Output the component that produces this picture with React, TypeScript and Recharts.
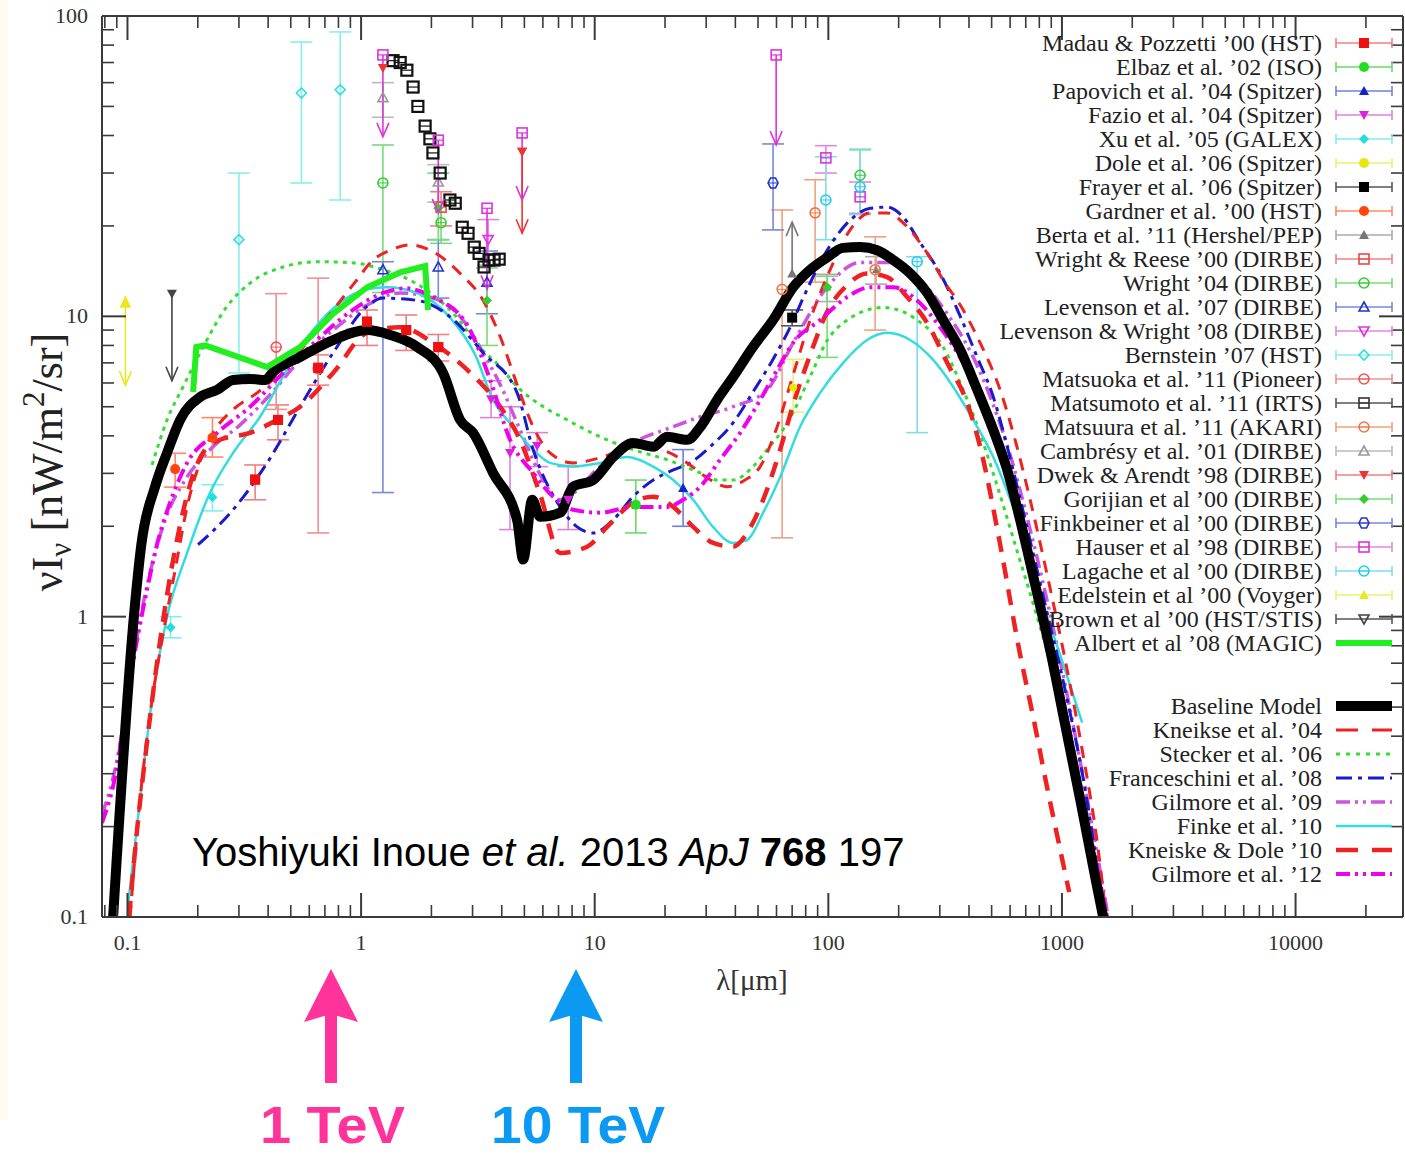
import React from 'react';
import { ComposedChart, Line, Scatter, XAxis, YAxis, ErrorBar } from 'recharts';

// ---------- axes ----------
const X_DOMAIN: [number, number] = [0.0778, 28830];
const Y_DOMAIN: [number, number] = [0.1, 100];
const X_TICKS = [0.08, 0.09, 0.1, 0.2, 0.3, 0.4, 0.5, 0.6, 0.7, 0.8, 0.9, 1, 2, 3, 4, 5, 6, 7, 8, 9, 10, 20, 30, 40, 50, 60, 70, 80, 90, 100, 200, 300, 400, 500, 600, 700, 800, 900, 1000, 2000, 3000, 4000, 5000, 6000, 7000, 8000, 9000, 10000, 20000];
const X_MAJOR = [0.1, 1, 10, 100, 1000, 10000];
const X_LABELS = ['0.1', '1', '10', '100', '1000', '10000'];
const Y_TICKS = [0.1, 0.2, 0.3, 0.4, 0.5, 0.6, 0.7, 0.8, 0.9, 1, 2, 3, 4, 5, 6, 7, 8, 9, 10, 20, 30, 40, 50, 60, 70, 80, 90, 100];
const Y_MAJOR = [0.1, 1, 10, 100];
const Y_LABELS = ['0.1', '1', '10', '100'];

// ---------- model curves [lambda (um), nuI_nu] ----------
const baseline = [[0.0868,0.1],[0.1067,1.015],[0.1146,1.735],[0.1313,2.71],[0.1477,3.51],[0.168,4.52],[0.2046,5.39],[0.2418,5.69],[0.2831,6.14],[0.3347,6.19],[0.388,6.14],[0.42,6.53],[0.548,7.32],[0.759,8.34],[1.061,9.0],[1.331,8.67],[1.737,7.91],[2.244,6.48],[2.653,4.52],[3.017,4.09],[3.673,3.01],[4.654,2.1],[4.94,1.55],[5.4,2.45],[5.84,2.15],[7.11,2.22],[8.08,2.71],[9.84,2.85],[11.99,3.4],[14.6,3.79],[17.8,3.68],[20.4,3.97],[24.9,3.88],[28.3,4.28],[33.4,5.27],[39.1,6.28],[47.6,7.91],[58,9.72],[70.7,12.5],[83.6,14.3],[98.8,15.7],[115.7,16.9],[136.8,17.0],[161.8,16.6],[189.4,15.4],[224,13.9],[265,11.96],[310,9.72],[367,7.73],[434,5.69],[508,4.19],[583,3.08],[662,2.1],[768,1.278],[899,0.747],[1032,0.437],[1197,0.246],[1387,0.136],[1501,0.1]];
const kneikse04 = [[0.1026,0.1],[0.1132,0.246],[0.1249,0.472],[0.1406,0.838],[0.16,1.43],[0.18,2.32],[0.2046,3.28],[0.2325,4.09],[0.2831,4.89],[0.3588,5.56],[0.45,6.48],[0.576,8.04],[0.759,10.5],[0.943,13.0],[1.126,15.4],[1.331,16.6],[1.621,17.3],[2.033,16.4],[2.653,13.9],[3.33,11.3],[3.94,8.55],[4.654,5.92],[5.45,4.29],[6.44,3.51],[8.08,3.25],[10.55,3.38],[14.6,3.68],[19.05,3.6],[24.9,3.25],[30.3,2.9],[36.9,2.71],[44,2.85],[51.1,3.16],[60.4,4.29],[70.7,6.39],[83.6,9.72],[101.8,14.3],[124,19.4],[151,22.1],[178.5,22.1],[213,20.2],[260,16.6],[316,12.9],[367,10.9],[446.5,8.16],[543.8,5.69],[630,3.88],[731,2.45],[873,1.33],[1032,0.719],[1220,0.361],[1429,0.168],[1546,0.1]];
const stecker06 = [[0.1274,3.2],[0.1477,4.52],[0.173,5.83],[0.2046,7.56],[0.267,10.8],[0.3347,12.9],[0.464,14.6],[0.648,15.2],[0.897,15.1],[1.242,14.3],[1.737,12.8],[2.404,10.5],[3.33,7.7],[3.94,6.79],[4.654,5.83],[5.45,5.27],[7.62,4.52],[10.55,3.97],[14.6,3.6],[20.4,3.33],[28.3,3.01],[33.4,2.85],[39.1,2.85],[47.6,3.16],[54.7,3.6],[66.6,4.4],[83.6,6.3],[98.8,8.3],[115.7,9.5],[171.6,10.7],[240,9.72],[310,7.91],[367,6.0],[425,4.52],[518,2.86],[630,1.74],[768,1.05],[935,0.62],[1139,0.334]];
const franceschini08 = [[0.2005,1.736],[0.2831,2.27],[0.396,3.25],[0.548,5.0],[0.759,7.56],[1.061,10.8],[1.242,11.5],[1.737,11.3],[2.404,9.96],[3.33,7.56],[4.654,5.56],[5.45,3.6],[7.11,2.32],[8.41,1.99],[9.84,1.9],[11.99,2.1],[14.6,2.51],[17.8,2.85],[21.7,3.08],[25.6,3.25],[31.2,3.68],[39.1,4.42],[47.6,5.6],[58,7.2],[70,9.5],[78,11.5],[98.8,16.6],[124,20.9],[151,22.9],[178.5,23.1],[209,21.4],[247,17.6],[301,13.9],[367,10.0],[434,7.3],[508,5.4],[583,3.68],[696,2.1],[847,1.1],[1032,0.57],[1257,0.266],[1520,0.1]];
const gilmore09 = [[0.0778,0.219],[0.0903,0.334],[0.1006,0.55],[0.1132,0.977],[0.1274,1.49],[0.1449,2.1],[0.1764,2.85],[0.2258,3.6],[0.3034,4.35],[0.408,5.48],[0.548,7.16],[0.759,9.0],[1.061,10.9],[1.469,11.96],[2.033,11.5],[2.73,9.72],[3.33,7.56],[3.94,5.92],[4.79,4.19],[5.84,2.97],[7.11,2.45],[10.55,3.16],[14.6,3.79],[21.7,4.29],[28.3,4.63],[39.1,5.0],[54.7,5.69],[70.7,8.16],[98.8,12.5],[136.8,15.1],[189.4,15.1],[247,13.2],[322.6,10.2],[416.8,7.32],[508,5.08],[600,3.46],[731,1.95],[890,1.02],[1084,0.49],[1320,0.219],[1577,0.1]];
const finke10 = [[0.1006,0.11],[0.1132,0.246],[0.1274,0.53],[0.1477,1.0],[0.18,1.63],[0.2258,2.59],[0.2831,3.51],[0.3694,4.63],[0.482,6.64],[0.623,9.0],[0.813,11.1],[1.061,12.3],[1.292,12.5],[1.737,11.96],[2.404,9.9],[3.08,7.44],[3.673,5.27],[4.474,4.29],[5.45,3.6],[6.44,3.25],[8.08,3.16],[10.55,3.25],[13.76,3.4],[17.8,3.16],[21.7,2.85],[26.4,2.45],[32.1,1.99],[39.1,1.76],[44.9,1.8],[52.6,2.22],[62.2,2.92],[75.7,4.29],[92.2,5.56],[115.7,7.0],[146.6,8.34],[178.5,8.81],[224,8.34],[281,7.16],[342,5.83],[416.8,4.52],[508,3.4],[612,2.36],[731,1.55],[847,1.05],[982,0.747],[1220,0.444]];
const kneiskeDole10 = [[0.1016,0.1],[0.11,0.196],[0.1202,0.361],[0.1326,0.666],[0.1477,1.18],[0.168,2.02],[0.191,2.97],[0.215,3.6],[0.249,3.88],[0.3347,4.09],[0.437,4.52],[0.548,5.0],[0.759,6.48],[1.061,8.81],[1.469,9.2],[2.033,8.16],[2.843,6.64],[3.94,5.0],[4.79,3.88],[5.84,2.55],[7.11,1.63],[9.28,1.71],[11.3,1.99],[14.6,2.4],[17.8,2.51],[21.7,2.32],[26.4,1.99],[32.1,1.76],[39.1,1.71],[44.9,1.9],[52.6,2.45],[62.2,3.6],[70.7,5.08],[83.6,7.45],[98.8,10.35],[120.4,12.7],[146.6,13.9],[178.5,13.5],[217.4,11.6],[265,9.5],[322.6,7.0],[392.9,5.15],[446.5,3.68],[543.8,1.74],[655.8,0.777],[752.6,0.465],[855.7,0.28],[982,0.168],[1074,0.121]];
const gilmore12 = [[0.0778,0.206],[0.0903,0.317],[0.0996,0.53],[0.11,0.838],[0.1213,1.23],[0.1338,1.74],[0.1522,2.4],[0.18,3.25],[0.2418,4.09],[0.3347,5.0],[0.464,6.48],[0.648,8.34],[0.897,10.35],[1.242,11.96],[1.543,12.4],[2.033,11.6],[2.843,9.37],[3.57,6.14],[4.34,3.88],[5.45,3.01],[6.63,2.51],[8.08,2.27],[10.55,2.22],[14.6,2.32],[20.4,2.32],[23.9,2.45],[28.3,2.71],[34.4,3.33],[41.9,4.09],[51.1,5.27],[60.4,6.64],[70.7,8.16],[92.2,9.72],[120.4,11.6],[151,12.5],[189.4,12.5],[240,11.3],[301,9.2],[377.6,7.0],[478.4,4.77],[571,3.2],[696,1.8],[847,0.977],[1032,0.49],[1257,0.228],[1561,0.1]];
const albert08 = [[0.191,5.6],[0.197,7.9],[0.215,8.0],[0.396,6.78],[0.548,7.9],[0.759,10.2],[1.061,12.5],[1.469,14.0],[1.88,14.7],[1.935,10.5]];

// ---------- measurements [lambda, value, low, high] ----------
const madau = [[0.352,2.86,2.45,3.2],[0.441,4.52,3.88,5.07],[0.655,6.74,5.9,7.44],[1.06,9.6,8.0,10.5],[1.56,9.0,7.7,10.1],[2.14,7.9,7.1,8.7]];
const elbaz = [[15,2.36,1.9,2.85]];
const papovich = [[23.9,2.68,2.0,3.6]];
const fazio = [[3.6,5.3,4.6,6.1],[4.34,3.51,1.95,5.0],[5.67,3.7,3.16,4.1],[7.7,2.45,1.95,3.16]];
const xu = [[0.153,0.92,0.85,1.0],[0.231,2.5,2.25,2.75]];
const dole = [[70.7,5.8,4.8,7.2]];
const frayer = [[70,9.9,9.3,10.5]];
const gardner = [[0.16,3.1,2.7,3.5],[0.231,3.94,3.4,4.6]];
const berta = [[98.8,12.5,11.2,13.8],[160,14.3,12.8,15.8]];
const wrightReese = [[2.2,23.1,20,26]];
const wright04 = [[1.24,27.8,12,37.2],[2.2,20.5,17.5,24],[136.8,29.5,22,36]];
const levenson07 = [[1.24,14.3,2.59,15.2],[2.14,14.6,11.5,18.0],[3.46,13,10.2,16.5]];
const levWright08 = [[3.5,18,14.8,21]];
const bernstein07 = [[0.3,18,6.48,30],[0.555,55.4,27.8,81.9],[0.814,56.8,24.4,88.5]];
const matsuoka11 = [[0.433,7.9,4.9,11.9],[0.655,6.7,1.9,13.4]];
const matsumoto11 = [[1.37,71],[1.47,70],[1.57,66],[1.67,58],[1.75,50],[1.88,43],[1.97,39],[2.03,35],[2.18,30],[2.4,24.4],[2.53,23.8],[2.71,19.8],[2.87,18.9],[3.05,17],[3.2,16.2],[3.36,14.6],[3.53,15.4],[3.71,15.4],[3.9,15.5]];
const matsuura11 = [[63.4,12.3,1.83,22.6],[87.8,22.1,13,28.5],[158.6,14.3,9.0,18.4]];
const cambresy01 = [[1.24,53.5,46,60],[2.14,28,24,32]];
const dwekPts = [[1.24,67.1],[4.89,35.3]];
const gorjian00 = [[2.14,22.9,18,30],[3.46,11.3,8,14.5],[98.8,12.5,7.3,13.6]];
const finkbeiner00 = [[58,27.8,19.4,37.5]];
const hauserDet = [[97.6,33.7,30,37],[136.8,25,22,28]];
const lagache00 = [[97.6,24.4,18,34],[136.8,27,21.8,35.8],[240,15.2,4.1,15.8]];
// limits [lambda, value, arrow tip]
const hauserLim = [[1.24,74.2,39.6],[2.14,38.6,22.1],[3.46,22.9,12.3],[4.89,40.8,24.4],[59.8,74.2,37.2]];
const dwekLim = [[4.89,35.3,18.9]];
const brownLim = [[0.155,11.9,6.1]];
const edelUp = [[0.098,8.3,11.7]];
const edelDown = [[0.098,8.3,5.9]];
const bertaUp = [[70,13.9,20.6]];

const pts = (a: number[][]) => a.map(([x, y]) => ({ x, y }));
const errPts = (a: number[][]) => a.map(([x, y, lo, hi]) => ({ x, y, e: [y - lo, hi - y] }));
const limPts = (a: number[][]) => a.map(([x, y, t]) => ({ x, y, e: t < y ? [y - t, 0] : [0, t - y] }));
const tipPts = (a: number[][]) => a.map(([x, , t]) => ({ x, y: t }));

const SERIF = "'Liberation Serif','Times New Roman',serif";
const SANS = "'Liberation Sans',Arial,sans-serif";

function mark(kind: string, cx: number, cy: number, c: string, s = 5, sw = 1.6): any {
  switch (kind) {
    case 'sqF': return <rect x={cx - s} y={cy - s} width={2 * s} height={2 * s} fill={c} />;
    case 'sqO': return <g><rect x={cx - s} y={cy - s} width={2 * s} height={2 * s} fill="none" stroke={c} strokeWidth={sw} /><line x1={cx - s} x2={cx + s} y1={cy} y2={cy} stroke={c} strokeWidth={1.2} /></g>;
    case 'cirF': return <circle cx={cx} cy={cy} r={s} fill={c} />;
    case 'cirO': return <g><circle cx={cx} cy={cy} r={s} fill="none" stroke={c} strokeWidth={sw} /><line x1={cx - s} x2={cx + s} y1={cy} y2={cy} stroke={c} strokeWidth={1} /></g>;
    case 'triUF': return <polygon points={`${cx},${cy - s} ${cx - s},${cy + s * 0.8} ${cx + s},${cy + s * 0.8}`} fill={c} />;
    case 'triUO': return <polygon points={`${cx},${cy - s} ${cx - s},${cy + s * 0.8} ${cx + s},${cy + s * 0.8}`} fill="none" stroke={c} strokeWidth={sw} />;
    case 'triDF': return <polygon points={`${cx},${cy + s} ${cx - s},${cy - s * 0.8} ${cx + s},${cy - s * 0.8}`} fill={c} />;
    case 'triDO': return <polygon points={`${cx},${cy + s} ${cx - s},${cy - s * 0.8} ${cx + s},${cy - s * 0.8}`} fill="none" stroke={c} strokeWidth={sw} />;
    case 'diaF': return <polygon points={`${cx},${cy - s} ${cx + s},${cy} ${cx},${cy + s} ${cx - s},${cy}`} fill={c} />;
    case 'diaO': return <polygon points={`${cx},${cy - s} ${cx + s},${cy} ${cx},${cy + s} ${cx - s},${cy}`} fill="none" stroke={c} strokeWidth={sw} />;
    case 'hexO': return <g><polygon points={`${cx - s},${cy} ${cx - s / 2},${cy - s} ${cx + s / 2},${cy - s} ${cx + s},${cy} ${cx + s / 2},${cy + s} ${cx - s / 2},${cy + s}`} fill="none" stroke={c} strokeWidth={sw} /><line x1={cx - s} x2={cx + s} y1={cy} y2={cy} stroke={c} strokeWidth={1} /></g>;
    case 'arrD': return <polyline points={`${cx - 6},${cy - 14} ${cx},${cy} ${cx + 6},${cy - 14}`} fill="none" stroke={c} strokeWidth={1.6} />;
    case 'arrU': return <polyline points={`${cx - 6},${cy + 14} ${cx},${cy} ${cx + 6},${cy + 14}`} fill="none" stroke={c} strokeWidth={1.6} />;
    case 'arrUF': return <polygon points={`${cx},${cy} ${cx - 6},${cy + 12} ${cx + 6},${cy + 12}`} fill={c} />;
    default: return <g />;
  }
}

const SETS = [
  { d: madau, mk: 'sqF', c: '#ee1111', bc: '#f08080', s: 5 },
  { d: matsuoka11, mk: 'cirO', c: '#ee5555', bc: '#f09090', s: 5 },
  { d: elbaz, mk: 'cirF', c: '#22dd22', bc: '#66dd66', s: 5 },
  { d: papovich, mk: 'triUF', c: '#1122cc', bc: '#7080dd', s: 5 },
  { d: fazio, mk: 'triDF', c: '#dd22dd', bc: '#e080e0', s: 5 },
  { d: xu, mk: 'diaF', c: '#22dddd', bc: '#80eeee', s: 5 },
  { d: dole, mk: 'cirF', c: '#e8e811', bc: '#eeee77', s: 4 },
  { d: gardner, mk: 'cirF', c: '#ff4411', bc: '#ff8866', s: 5 },
  { d: berta, mk: 'triUF', c: '#777777', bc: '#aaaaaa', s: 4 },
  { d: wrightReese, mk: 'sqO', c: '#ee4444', bc: '#f08080', s: 5 },
  { d: wright04, mk: 'cirO', c: '#33cc33', bc: '#77dd77', s: 5 },
  { d: levenson07, mk: 'triUO', c: '#2233cc', bc: '#7788dd', s: 5 },
  { d: levWright08, mk: 'triDO', c: '#dd33dd', bc: '#e088e0', s: 5 },
  { d: bernstein07, mk: 'diaO', c: '#33dddd', bc: '#88eeee', s: 5 },
  { d: matsuura11, mk: 'cirO', c: '#ee7744', bc: '#f0a080', s: 5 },
  { d: cambresy01, mk: 'triUO', c: '#999999', bc: '#bbbbbb', s: 5 },
  { d: gorjian00, mk: 'diaF', c: '#33cc33', bc: '#77dd77', s: 5 },
  { d: finkbeiner00, mk: 'hexO', c: '#2233cc', bc: '#7788dd', s: 5 },
  { d: hauserDet, mk: 'sqO', c: '#dd33dd', bc: '#e088e0', s: 5 },
  { d: lagache00, mk: 'cirO', c: '#22ccee', bc: '#80ddee', s: 5 },
  { d: frayer, mk: 'sqF', c: '#000000', bc: '#555555', s: 5 },
];

const LIMITS = [
  { d: hauserLim, mk: 'sqO', tip: 'arrD', c: '#dd33dd' },
  { d: dwekLim, mk: 'triDF', tip: 'arrD', c: '#ee3333' },
  { d: brownLim, mk: 'triDF', tip: 'arrD', c: '#444444' },
  { d: edelUp, mk: 'none', tip: 'arrUF', c: '#e8e822' },
  { d: edelDown, mk: 'none', tip: 'arrD', c: '#e8e822' },
  { d: bertaUp, mk: 'triUF', tip: 'arrU', c: '#777777' },
];

const MODELS = [
  { d: gilmore09, c: '#cc55dd', w: 3.5, dash: '14 5 3 5 3 5' },
  { d: stecker06, c: '#33dd33', w: 3, dash: '4 5' },
  { d: finke10, c: '#33dddd', w: 2.5, dash: undefined },
  { d: franceschini08, c: '#1a1acc', w: 3, dash: '14 6 4 6' },
  { d: kneikse04, c: '#ee2222', w: 3, dash: '12 9' },
  { d: kneiskeDole10, c: '#ee2222', w: 4.5, dash: '16 11' },
  { d: gilmore12, c: '#ee00ee', w: 4, dash: '14 5 3 5 3 5' },
];

const LEGEND_DATA = [
  ["Madau & Pozzetti ’00 (HST)", 'sqF', '#ee1111', '#f08080'],
  ["Elbaz et al. ’02 (ISO)", 'cirF', '#22dd22', '#66dd66'],
  ["Papovich et al. ’04 (Spitzer)", 'triUF', '#1122cc', '#7080dd'],
  ["Fazio et al. ’04 (Spitzer)", 'triDF', '#dd22dd', '#e080e0'],
  ["Xu et al. ’05 (GALEX)", 'diaF', '#22dddd', '#80eeee'],
  ["Dole et al. ’06 (Spitzer)", 'cirF', '#e8e811', '#eeee77'],
  ["Frayer et al. ’06 (Spitzer)", 'sqF', '#000000', '#555555'],
  ["Gardner et al. ’00 (HST)", 'cirF', '#ff4411', '#ff8866'],
  ["Berta et al. ’11 (Hershel/PEP)", 'triUF', '#777777', '#aaaaaa'],
  ["Wright & Reese ’00 (DIRBE)", 'sqO', '#ee4444', '#f08080'],
  ["Wright ’04 (DIRBE)", 'cirO', '#33cc33', '#77dd77'],
  ["Levenson et al. ’07 (DIRBE)", 'triUO', '#2233cc', '#7788dd'],
  ["Levenson & Wright ’08 (DIRBE)", 'triDO', '#dd33dd', '#e088e0'],
  ["Bernstein ’07 (HST)", 'diaO', '#33dddd', '#88eeee'],
  ["Matsuoka et al. ’11 (Pioneer)", 'cirO', '#ee5555', '#f09090'],
  ["Matsumoto et al. ’11 (IRTS)", 'sqO', '#333333', '#555555'],
  ["Matsuura et al. ’11 (AKARI)", 'cirO', '#ee7744', '#f0a080'],
  ["Cambrésy et al. ’01 (DIRBE)", 'triUO', '#999999', '#bbbbbb'],
  ["Dwek & Arendt ’98 (DIRBE)", 'triDF', '#ee3333', '#f08080'],
  ["Gorijian et al ’00 (DIRBE)", 'diaF', '#33cc33', '#77dd77'],
  ["Finkbeiner et al ’00 (DIRBE)", 'hexO', '#2233cc', '#7788dd'],
  ["Hauser et al ’98 (DIRBE)", 'sqO', '#dd33dd', '#e088e0'],
  ["Lagache et al ’00 (DIRBE)", 'cirO', '#22ccee', '#80ddee'],
  ["Edelstein et al ’00 (Voyger)", 'triUF', '#e8e822', '#eeee77'],
  ["Brown et al ’00 (HST/STIS)", 'triDO', '#444444', '#555555'],
];
const LEGEND_MODELS = [
  ["Baseline Model", '#000000', 10, undefined],
  ["Kneikse et al. ’04", '#ee2222', 3, '22 14'],
  ["Stecker et al. ’06", '#33dd33', 3, '4 6'],
  ["Franceschini et al. ’08", '#1a1acc', 3, '16 6 4 6'],
  ["Gilmore et al. ’09", '#cc55dd', 3.5, '14 5 3 5 3 5'],
  ["Finke et al. ’10", '#33dddd', 2.5, undefined],
  ["Kneiske & Dole ’10", '#ee2222', 4.5, '22 14'],
  ["Gilmore et al. ’12", '#ee00ee', 4, '14 5 3 5 3 5'],
];

const AX = '#3a3a3a';

// ticks drawn inward from each side of the frame, at the axis' own tick coordinates
const TickBottom = (p: any) => {
  const v = p.payload.value;
  const i = X_MAJOR.indexOf(v);
  const major = i >= 0;
  const x = Number(p.x), y = Number(p.y);
  return (
    <g>
      <line x1={x} x2={x} y1={y} y2={y - (major ? 24 : 12)} stroke={AX} strokeWidth={major ? 2 : 1.6} />
      {major && <text x={x} y={y + 33} textAnchor="middle" fontFamily={SERIF} fontSize={22} fill="#333">{X_LABELS[i]}</text>}
    </g>
  );
};
const TickTop = (p: any) => {
  const major = X_MAJOR.indexOf(p.payload.value) >= 0;
  const x = Number(p.x), y = Number(p.y);
  return <line x1={x} x2={x} y1={y} y2={y + (major ? 24 : 12)} stroke={AX} strokeWidth={major ? 2 : 1.6} />;
};
const TickLeft = (p: any) => {
  const i = Y_MAJOR.indexOf(p.payload.value);
  const major = i >= 0;
  const x = Number(p.x), y = Number(p.y);
  return (
    <g>
      <line x1={x} x2={x + (major ? 24 : 12)} y1={y} y2={y} stroke={AX} strokeWidth={major ? 2 : 1.6} />
      {major && <text x={x - 14} y={y + 7} textAnchor="end" fontFamily={SERIF} fontSize={22} fill="#333">{Y_LABELS[i]}</text>}
    </g>
  );
};
const TickRight = (p: any) => {
  const major = Y_MAJOR.indexOf(p.payload.value) >= 0;
  const x = Number(p.x), y = Number(p.y);
  return <line x1={x} x2={x - (major ? 24 : 12)} y1={y} y2={y} stroke={AX} strokeWidth={major ? 2 : 1.6} />;
};

function Overlay() {
  const lx0 = 1336, lx1 = 1392, lxm = 1364, tx = 1322;
  return (
    <svg width={1405} height={1156} style={{ position: 'absolute', left: 0, top: 0, pointerEvents: 'none' }}>
      {LEGEND_DATA.map((r: any, i: number) => {
        const y = 43 + 24 * i;
        return (
          <g key={'ld' + i}>
            <text x={tx} y={y + 8} textAnchor="end" fontFamily={SERIF} fontSize={24} fill="#222">{r[0]}</text>
            <line x1={lx0} x2={lx1} y1={y} y2={y} stroke={r[3]} strokeWidth={1.6} />
            <line x1={lx0} x2={lx0} y1={y - 5} y2={y + 5} stroke={r[3]} strokeWidth={1.6} />
            <line x1={lx1} x2={lx1} y1={y - 5} y2={y + 5} stroke={r[3]} strokeWidth={1.6} />
            {mark(r[1], lxm, y, r[2], 5)}
          </g>
        );
      })}
      <g>
        <text x={tx} y={43 + 24 * 25 + 8} textAnchor="end" fontFamily={SERIF} fontSize={24} fill="#222">Albert et al ’08 (MAGIC)</text>
        <line x1={lx0} x2={lx1} y1={43 + 24 * 25} y2={43 + 24 * 25} stroke="#22ee22" strokeWidth={6} />
      </g>
      {LEGEND_MODELS.map((r: any, i: number) => {
        const y = 706 + 24 * i;
        return (
          <g key={'lm' + i}>
            <text x={tx} y={y + 8} textAnchor="end" fontFamily={SERIF} fontSize={24} fill="#222">{r[0]}</text>
            <line x1={lx0} x2={lx1} y1={y} y2={y} stroke={r[1]} strokeWidth={r[2]} strokeDasharray={r[3]} />
          </g>
        );
      })}
      {/* axis titles */}
      <text x={752} y={990} textAnchor="middle" fontFamily={SERIF} fontSize={29} fill="#333">λ[μm]</text>
      <text transform="rotate(-90 62 462)" x={62} y={462} textAnchor="middle" fontFamily={SERIF} fontSize={44} fill="#222">
        νI<tspan dy={9} fontSize={31}>ν</tspan><tspan dy={-9}> [nW/m</tspan><tspan dy={-18} fontSize={31}>2</tspan><tspan dy={18}>/sr]</tspan>
      </text>
      {/* citation */}
      <text x={192} y={866} fontFamily={SANS} fontSize={40} fill="#000">
        Yoshiyuki Inoue <tspan fontStyle="italic">et al.</tspan> 2013 <tspan fontStyle="italic">ApJ</tspan> <tspan fontWeight="bold">768</tspan> 197
      </text>
      {/* energy arrows */}
      <rect x={325} y={1012} width={12} height={71} fill="#ff3399" />
      <polygon points="331,969 304,1022 331,1014 358,1022" fill="#ff3399" />
      <rect x={570} y={1012} width={12} height={71} fill="#0b99f2" />
      <polygon points="576,969 549,1022 576,1014 603,1022" fill="#0b99f2" />
      <text x={260} y={1143} fontFamily={SANS} fontWeight="bold" fontSize={52} fill="#ff3399" textLength={145} lengthAdjust="spacingAndGlyphs">1 TeV</text>
      <text x={491} y={1143} fontFamily={SANS} fontWeight="bold" fontSize={52} fill="#0b99f2" textLength={174} lengthAdjust="spacingAndGlyphs">10 TeV</text>
    </svg>
  );
}

export default function App() {
  return (
    <div style={{ position: 'absolute', left: 0, top: 0, width: 1405, height: 1156, background: '#fff', overflow: 'hidden' }}>
      <div style={{ position: 'absolute', left: 0, top: 0, width: 8, height: 1120, background: '#fbfbef' }} />
      <div style={{ position: 'absolute', left: 0, top: 0 }}>
        <ComposedChart width={1405} height={1000} margin={{ top: 0, right: 0, bottom: 0, left: 0 }}>
          <XAxis xAxisId="top" orientation="top" dataKey="x" type="number" scale="log" domain={X_DOMAIN} allowDataOverflow ticks={X_TICKS} interval={0}
            height={16} tickSize={0} tickMargin={0} tickLine={false} axisLine={{ stroke: AX, strokeWidth: 2 }} tick={TickTop} />
          <XAxis xAxisId={0} dataKey="x" type="number" scale="log" domain={X_DOMAIN} allowDataOverflow ticks={X_TICKS} interval={0}
            height={83} tickSize={0} tickMargin={0} tickLine={false} axisLine={{ stroke: AX, strokeWidth: 2 }} tick={TickBottom} />
          <YAxis yAxisId={0} dataKey="y" type="number" scale="log" domain={Y_DOMAIN} allowDataOverflow ticks={Y_TICKS} interval={0}
            width={102} tickSize={0} tickMargin={0} tickLine={false} axisLine={{ stroke: AX, strokeWidth: 2 }} tick={TickLeft} />
          <YAxis yAxisId="right" orientation="right" dataKey="y" type="number" scale="log" domain={Y_DOMAIN} allowDataOverflow ticks={Y_TICKS} interval={0}
            width={2} tickSize={0} tickMargin={0} tickLine={false} axisLine={{ stroke: AX, strokeWidth: 2 }} tick={TickRight} />

          {SETS.map((s: any, i: number) => (
            <Scatter key={'s' + i} data={errPts(s.d)} fill={s.c} isAnimationActive={false}
              shape={(p: any) => mark(s.mk, p.cx, p.cy, s.c, s.s)}>
              <ErrorBar dataKey="e" direction="y" width={11} stroke={s.bc} strokeWidth={1.6} />
            </Scatter>
          ))}
          <Scatter data={pts(matsumoto11)} isAnimationActive={false} shape={(p: any) => mark('sqO', p.cx, p.cy, '#111', 5.5, 2.2)} />
          <Scatter data={pts(dwekPts)} isAnimationActive={false} shape={(p: any) => mark('triDF', p.cx, p.cy, '#ee3333', 5)} />
          {LIMITS.map((s: any, i: number) => (
            <Scatter key={'l' + i} data={limPts(s.d)} isAnimationActive={false}
              shape={(p: any) => mark(s.mk, p.cx, p.cy, s.c, 5)}>
              <ErrorBar dataKey="e" direction="y" width={0} stroke={s.c} strokeWidth={1.6} />
            </Scatter>
          ))}
          {LIMITS.map((s: any, i: number) => (
            <Scatter key={'t' + i} data={tipPts(s.d)} isAnimationActive={false}
              shape={(p: any) => mark(s.tip, p.cx, p.cy, s.c)} />
          ))}

          {MODELS.map((m: any, i: number) => (
            <Line key={'m' + i} data={pts(m.d)} dataKey="y" type="monotone" stroke={m.c} strokeWidth={m.w}
              strokeDasharray={m.dash} dot={false} activeDot={false} isAnimationActive={false} />
          ))}
          <Line data={pts(baseline)} dataKey="y" type="monotone" stroke="#000" strokeWidth={10} strokeLinejoin="round"
            dot={false} activeDot={false} isAnimationActive={false} />
          <Line data={pts(albert08)} dataKey="y" type="linear" stroke="#22ee22" strokeWidth={6} strokeLinejoin="miter"
            dot={false} activeDot={false} isAnimationActive={false} />
          <Scatter data={errPts(madau)} isAnimationActive={false} shape={(p: any) => mark('sqF', p.cx, p.cy, '#ee1111', 5)} />
        </ComposedChart>
      </div>
      <Overlay />
    </div>
  );
}
